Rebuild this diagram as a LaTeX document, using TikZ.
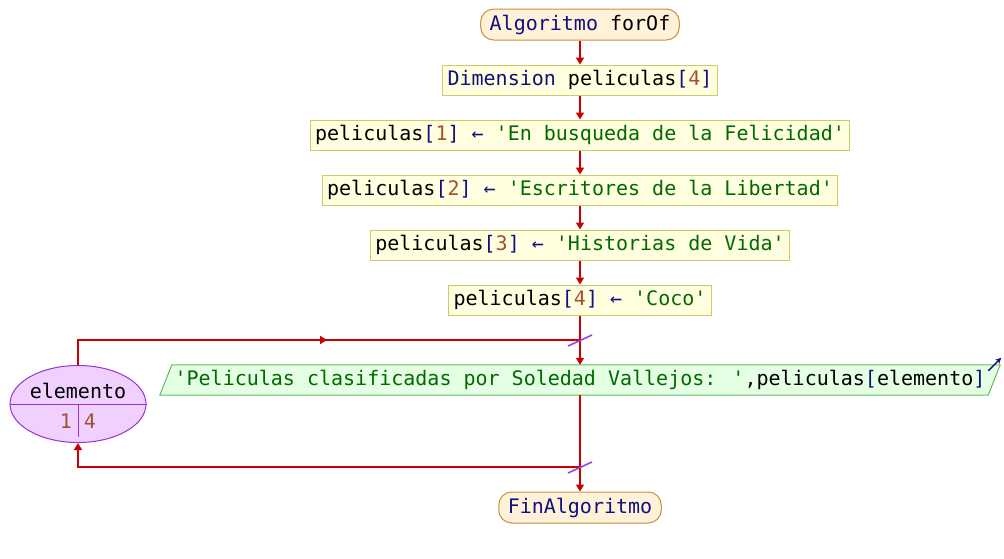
\documentclass[tikz,border=0pt]{standalone}
\usepackage{fontspec}
\newfontfamily\codigo{DejaVu Sans Mono}
\usetikzlibrary{arrows.meta, shapes.geometric, decorations.markings, backgrounds}

\definecolor{rojo}{HTML}{CC0000}
\definecolor{azul}{HTML}{10107F}
\definecolor{verde}{HTML}{006A00}
\definecolor{marron}{HTML}{A0522D}
\definecolor{violeta}{HTML}{9944DD}
\definecolor{fondoterm}{HTML}{FFF2D8}
\definecolor{bordeterm}{HTML}{C8903C}
\definecolor{fondoproc}{HTML}{FFFFE0}
\definecolor{bordeproc}{HTML}{CCCC66}
\definecolor{fondosal}{HTML}{E4FFE4}
\definecolor{bordesal}{HTML}{66BB66}
\definecolor{fondociclo}{HTML}{F0D0FF}
\definecolor{bordeciclo}{HTML}{9933CC}

\newcommand{\clave}[1]{\textcolor{azul}{#1}}
\newcommand{\numero}[1]{\textcolor{marron}{#1}}
\newcommand{\cadena}[1]{\textcolor{verde}{#1}}

\begin{document}
\begin{tikzpicture}[x=1pt, y=-1pt,
    every node/.style={font=\codigo\fontsize{20}{24}\selectfont, inner sep=0pt},
    terminal/.style={draw=bordeterm, fill=fondoterm, line width=1pt, rounded corners=13pt, minimum height=31pt, inner xsep=9pt},
    proceso/.style={draw=bordeproc, fill=fondoproc, line width=1pt, minimum height=30pt, inner xsep=5pt},
    flecha/.style={draw=rojo, line width=1.6pt, -{Triangle[length=7pt, width=8pt]}},
    linea/.style={draw=rojo, line width=1.6pt},
    corte/.style={draw=violeta, line width=1.6pt}]
    \useasboundingbox (0,0) rectangle (1004,558);

    % secuencia principal
    \node[terminal] (inicio) at (580,24.5) {\clave{Algoritmo} forOf};
    \node[proceso] (dim) at (580,80) {\clave{Dimension} peliculas\clave{[}\numero{4}\clave{]}};
    \node[proceso] (p1) at (580,135) {peliculas\clave{[}\numero{1}\clave{]} \clave{←} \cadena{'En busqueda de la Felicidad'}};
    \node[proceso] (p2) at (580,190) {peliculas\clave{[}\numero{2}\clave{]} \clave{←} \cadena{'Escritores de la Libertad'}};
    \node[proceso] (p3) at (580,245) {peliculas\clave{[}\numero{3}\clave{]} \clave{←} \cadena{'Historias de Vida'}};
    \node[proceso] (p4) at (580,300) {peliculas\clave{[}\numero{4}\clave{]} \clave{←} \cadena{'Coco'}};

    \draw[flecha] (inicio) -- (dim);
    \draw[flecha] (dim) -- (p1);
    \draw[flecha] (p1) -- (p2);
    \draw[flecha] (p2) -- (p3);
    \draw[flecha] (p3) -- (p4);

    % bucle para cada
    \node[minimum width=840pt, minimum height=30pt] (salida) at (580,380) {\cadena{'Peliculas clasificadas por Soledad Vallejos: '},peliculas\clave{[}elemento\clave{]}};
    \begin{scope}[on background layer]
        \draw[draw=bordesal, fill=fondosal, line width=1pt] ([xshift=12pt]salida.north west) -- (salida.north east) -- ([xshift=-12pt]salida.south east) -- (salida.south west) -- cycle;
    \end{scope}
    \draw[azul, line width=1.4pt, -{Stealth[length=6pt, width=6pt]}] ([shift={(-12,6)}]salida.north east) -- ++(13,-13);

    \node[ellipse, draw=bordeciclo, fill=fondociclo, line width=1pt, minimum width=136pt, minimum height=77pt] (ciclo) at (78,404) {};
    \draw[bordeciclo, line width=1pt] (ciclo.west) -- (ciclo.east);
    \draw[bordeciclo, line width=1pt] (ciclo.center) -- ++(0,33);
    \node (var) at (78,391) {elemento};
    \node (desde) at (66,421) {\numero{1}};
    \node (hasta) at (90,421) {\numero{4}};

    \node[terminal] (fin) at (580,507.5) {\clave{FinAlgoritmo}};

    \coordinate (arriba) at (580,340);
    \coordinate (abajo) at (580,467);

    \draw[flecha] (p4) -- (salida);
    \draw[flecha] (salida) -- (fin);
    \draw[linea, postaction={decorate}, decoration={markings, mark=at position 0.52 with {\arrow[rojo]{Triangle[length=7pt, width=8pt]}}}] (ciclo.north) |- (arriba);
    \draw[flecha] (abajo) -| (ciclo.south);

    \draw[corte] ([shift={(-12,6)}]arriba) -- ([shift={(12,-5)}]arriba);
    \draw[corte] ([shift={(-12,6)}]abajo) -- ([shift={(12,-5)}]abajo);
\end{tikzpicture}
\end{document}
